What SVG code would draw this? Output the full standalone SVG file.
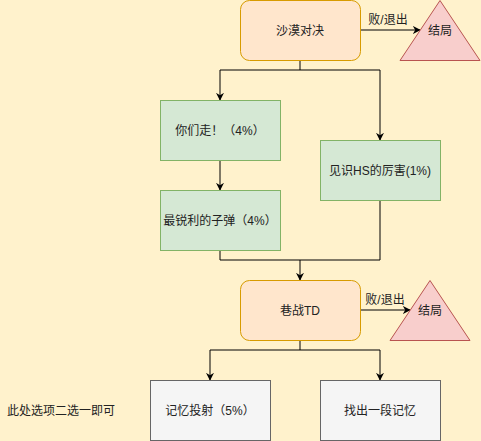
<svg xmlns="http://www.w3.org/2000/svg" width="481" height="441" viewBox="0 0 481 441">
<defs>
<marker id="ah" viewBox="0 0 10 10" refX="9" refY="5" markerWidth="8" markerHeight="8" markerUnits="userSpaceOnUse" orient="auto">
<path d="M0,0 L10,5 L0,10 L3,5 Z" fill="#000"/>
</marker>
</defs>
<style>
text{font-family:"Liberation Sans","Noto Sans CJK SC",sans-serif;font-size:12px;fill:#222;}
.c{text-anchor:middle;dominant-baseline:central;}
.orange{fill:#ffe6cc;stroke:#d79b00;stroke-width:1;}
.green{fill:#d5e8d4;stroke:#82b366;stroke-width:1;}
.gray{fill:#f5f5f5;stroke:#666666;stroke-width:1;}
.red{fill:#f8cecc;stroke:#b85450;stroke-width:1;}
.ln{fill:none;stroke:#000;stroke-width:1;}
</style>
<rect x="0" y="0" width="481" height="441" fill="#fff2cc"/>
<g id="connectors">
<path class="ln" d="M300,60 V70 H220 V100" marker-end="url(#ah)"/>
<path class="ln" d="M300,70 H380 V140" marker-end="url(#ah)"/>
<path class="ln" d="M220,160 V190" marker-end="url(#ah)"/>
<path class="ln" d="M220,250 V260 H380 V200"/>
<path class="ln" d="M300,260 V280" marker-end="url(#ah)"/>
<path class="ln" d="M360,30 H420" marker-end="url(#ah)"/>
<path class="ln" d="M360,310 H410" marker-end="url(#ah)"/>
<path class="ln" d="M300,340 V350 H210 V380" marker-end="url(#ah)"/>
<path class="ln" d="M300,350 H380 V380" marker-end="url(#ah)"/>
<text x="388" y="20" class="c">败/退出</text>
<text x="385" y="300" class="c">败/退出</text>
</g>
<g id="n1"><rect class="orange" x="240.5" y="0.5" width="120" height="60" rx="9"/><text x="300" y="31" class="c">沙漠对决</text></g>
<g id="end1"><path class="red" d="M440,0.5 L480,60.5 L400,60.5 Z"/><text x="440" y="31" class="c">结局</text></g>
<g id="n2"><rect class="green" x="160.5" y="100.5" width="120" height="60"/><text x="220" y="131" class="c">你们走！（4%）</text></g>
<g id="n3"><rect class="green" x="160.5" y="190.5" width="120" height="60"/><text x="220" y="221" class="c">最锐利的子弹（4%）</text></g>
<g id="n4"><rect class="green" x="320.5" y="140.5" width="120" height="60"/><text x="380" y="171" class="c">见识HS的厉害(1%)</text></g>
<g id="n5"><rect class="orange" x="240.5" y="280.5" width="120" height="60" rx="9"/><text x="300" y="311" class="c">巷战TD</text></g>
<g id="end2"><path class="red" d="M430,280.5 L470,340.5 L390,340.5 Z"/><text x="430" y="311" class="c">结局</text></g>
<g id="n6"><rect class="gray" x="150.5" y="380.5" width="120" height="60"/><text x="210" y="411" class="c">记忆投射（5%）</text></g>
<g id="n7"><rect class="gray" x="320.5" y="380.5" width="120" height="60"/><text x="380" y="411" class="c">找出一段记忆</text></g>
<g id="note"><text x="7" y="411" dominant-baseline="central">此处选项二选一即可</text></g>
</svg>
